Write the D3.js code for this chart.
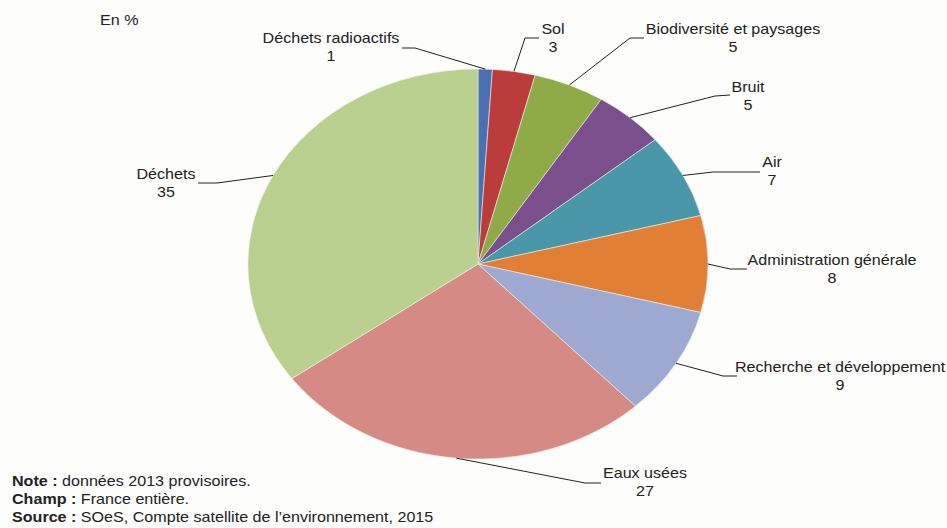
<!DOCTYPE html>
<html>
<head>
<meta charset="utf-8">
<script src="https://cdn.jsdelivr.net/npm/d3@7"></script>
<style>
  html, body { margin: 0; padding: 0; background: #fdfdfb; }
  svg { display: block; }
  text { font-family: "Liberation Sans", Arial, sans-serif; fill: #222; }
</style>
</head>
<body>
<svg id="chart" width="947" height="528"></svg>
<script>
// Répartition de la dépense de protection de l'environnement, en %
const categories = [
  "Déchets radioactifs", "Sol", "Biodiversité et paysages", "Bruit", "Air",
  "Administration générale", "Recherche et développement", "Eaux usées", "Déchets"
];
const values = [1, 3, 5, 5, 7, 8, 9, 27, 35];
const colors = [
  "#4a70b4", "#ba3d3b", "#8fab48", "#7a4f8b", "#4a97a9",
  "#e07f35", "#9ea9d2", "#d68a86", "#b9d08e"
];
const footnotes = [
  ["Note :", " données 2013 provisoires."],
  ["Champ :", " France entière."],
  ["Source :", " SOeS, Compte satellite de l’environnement, 2015"]
];

// Label placement: text centre, first baseline, leader start and elbow
const labelLayout = [
  { cx: 331, y: 43, start: [402, 48], elbow: [415, 48] },
  { cx: 553, y: 34, start: [539, 38], elbow: [525, 38] },
  { cx: 733, y: 34, start: [644, 38], elbow: [630, 38] },
  { cx: 748, y: 92, start: [730, 95], elbow: [715, 96] },
  { cx: 772, y: 167, start: [760, 172], elbow: [713, 172] },
  { cx: 832, y: 265, start: [747, 269], elbow: [730, 269] },
  { cx: 840, y: 372, start: [737, 376], elbow: [723, 376] },
  { cx: 645, y: 478, start: [601, 483], elbow: [585, 483] },
  { cx: 166, y: 179, start: [198, 183], elbow: [217, 183] }
];

const svg = d3.select("#chart");
const sx = 1.15;          // horizontal stretch of the whole figure
const fontSize = 14;
const cx = 478, cy = 264, rx = 230, ry = 195;

const data = categories.map((c, i) => ({ name: c, value: values[i], color: colors[i], lay: labelLayout[i] }));

const pie = d3.pie().value(d => d.value).sort(null);
const arcs = pie(data);
const arc = d3.arc().innerRadius(0).outerRadius(ry);
const edge = d3.arc().innerRadius(ry).outerRadius(ry);

// Pie drawn as a circle then stretched into an ellipse
const g = svg.append("g").attr("transform", `translate(${cx},${cy}) scale(${rx / ry},1)`);
g.selectAll("path.slice")
  .data(arcs)
  .join("path")
  .attr("class", "slice")
  .attr("d", arc)
  .attr("fill", d => d.data.color)
  .attr("stroke", "#eef0ea")
  .attr("stroke-width", 0.6)
  .attr("vector-effect", "non-scaling-stroke");

// Leader lines
const lines = svg.append("g");
arcs.forEach(a => {
  const [ex, ey] = edge.centroid(a);
  const anchor = [cx + ex * rx / ry, cy + ey];
  const L = a.data.lay;
  lines.append("path")
    .attr("d", d3.line()([L.start, L.elbow, anchor]))
    .attr("fill", "none")
    .attr("stroke", "#222")
    .attr("stroke-width", 1);
});

// Helper for horizontally stretched text
function stretchedText(parent, x, y, anchor) {
  return parent.append("text")
    .attr("transform", `translate(${x},${y}) scale(${sx},1)`)
    .attr("text-anchor", anchor)
    .attr("font-size", fontSize);
}

const labels = svg.append("g");
arcs.forEach(a => {
  const L = a.data.lay;
  stretchedText(labels, L.cx, L.y, "middle").text(a.data.name);
  stretchedText(labels, L.cx, L.y + 17.5, "middle").text(a.data.value);
});

// Unit
stretchedText(svg, 100, 25, "start").text("En %");

// Footnotes
footnotes.forEach((f, i) => {
  const t = stretchedText(svg, 12, 486 + i * 18, "start");
  t.append("tspan").attr("font-weight", "bold").text(f[0]);
  t.append("tspan").text(f[1]);
});
</script>
</body>
</html>
